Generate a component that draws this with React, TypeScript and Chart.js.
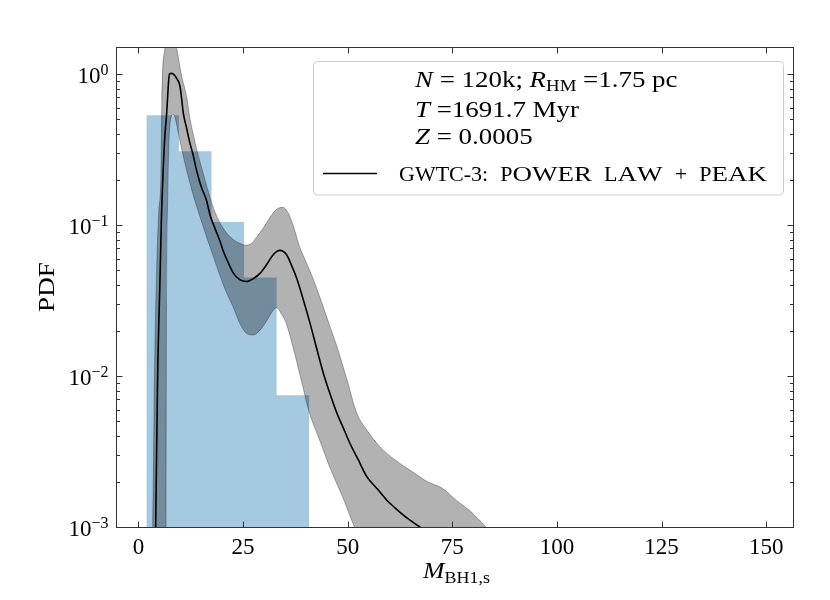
import React, { useEffect, useRef } from "react";
import { Chart, registerables } from "chart.js";

Chart.register(...registerables);

// ---------- data ----------
const histEdges = [1.91, 9.69, 17.47, 25.25, 33.03, 40.81];
const histHeights = [0.533, 0.308, 0.1047, 0.045, 0.00746];

const medianX = [3.9, 4.13, 4.6, 5.16, 5.5, 5.88, 6.3, 6.76, 7.1, 7.4, 8.0, 8.5, 9.2, 9.94, 10.35, 10.73, 11.5, 12.3, 13.1, 13.9, 15.0, 16.3, 17.1, 18.3, 19.5, 20.3, 21.5, 22.7, 24.2, 25.9, 27.5, 29.1, 30.7, 32.2, 33.8, 35.4, 36.6, 37.8, 39.4, 41.0, 42.6, 44.2, 45.8, 47.4, 49.0, 50.5, 52.5, 54.6, 57.0, 59.3, 61.3, 63.3, 65.5, 67.7, 69.5];
const medianY = [0.0003, 0.001, 0.01, 0.0434, 0.11, 0.216, 0.38, 0.55, 0.8, 1.0, 1.01, 0.99, 0.93, 0.83, 0.68, 0.55, 0.44, 0.35, 0.29, 0.23, 0.18, 0.145, 0.117, 0.095, 0.078, 0.067, 0.056, 0.048, 0.0435, 0.0423, 0.0442, 0.048, 0.055, 0.0636, 0.0679, 0.0636, 0.054, 0.0445, 0.032, 0.0224, 0.0152, 0.0104, 0.0076, 0.0057, 0.0045, 0.0036, 0.0028, 0.00215, 0.0018, 0.00151, 0.00134, 0.0012, 0.00108, 0.00098, 0.0009];

const upperX = [2.9, 3.42, 3.85, 4.3, 4.85, 5.4, 5.6, 6.36, 7.6, 9.1, 10.3, 11.6, 12.3, 13.1, 14.0, 15.1, 16.5, 18.0, 19.5, 21.1, 22.7, 24.3, 25.7, 27.1, 28.5, 29.9, 31.5, 33.0, 34.5, 35.8, 37.1, 38.5, 40.0, 41.5, 43.0, 44.5, 46.0, 47.4, 49.8, 52.2, 54.8, 57.7, 61.2, 65.5, 69.0, 72.7, 76.0, 79.1, 81.2, 83.0, 85.0];
const upperY = [0.0004, 0.001, 0.01, 0.0434, 0.12, 0.22, 0.66, 1.51, 2.4, 1.51, 0.98, 0.69, 0.51, 0.40, 0.31, 0.24, 0.174, 0.128, 0.103, 0.0885, 0.08, 0.0755, 0.0735, 0.076, 0.085, 0.096, 0.113, 0.127, 0.131, 0.12, 0.097, 0.072, 0.0575, 0.0457, 0.0355, 0.0269, 0.0204, 0.0158, 0.0095, 0.00566, 0.0043, 0.0034, 0.0028, 0.00232, 0.002, 0.0018, 0.0015, 0.00129, 0.00113, 0.001, 0.0008];

const lowerX = [2.9, 6.55, 6.7, 6.95, 7.5, 8.3, 8.8, 9.3, 9.94, 11.0, 12.3, 13.5, 14.7, 16.2, 17.9, 19.4, 21.1, 22.6, 24.2, 25.8, 27.4, 28.6, 29.8, 31.3, 32.4, 33.1, 34.0, 35.3, 36.9, 38.9, 40.9, 43.3, 45.7, 48.8, 51.6, 54.0, 60.0, 85.0];
const lowerY = [0.0001, 0.0005, 0.03, 0.13, 0.45, 0.54, 0.51, 0.44, 0.36, 0.265, 0.19, 0.145, 0.114, 0.085, 0.062, 0.047, 0.0354, 0.0289, 0.0224, 0.0192, 0.0187, 0.0195, 0.0213, 0.0249, 0.0277, 0.0283, 0.0262, 0.0224, 0.0157, 0.0094, 0.00566, 0.00377, 0.0025, 0.00158, 0.001, 0.0007, 0.0004, 0.0001];

const xTickValues = [0, 25, 50, 75, 100, 125, 150];
const yTickExponents = [-3, -2, -1, 0];
const yMinorFactors = [2, 3, 4, 5, 6, 7, 8, 9];

const legendInfo = ["N = 120k; R_HM =1.75 pc", "T =1691.7 Myr", "Z = 0.0005"];
const legendLabel = "GWTC-3: Power Law + Peak";

// ---------- helpers ----------
const FONT = '"Liberation Serif", "Times New Roman", serif';
const fnt = (size: number, italic = false) => `${italic ? "italic " : ""}${size}px ${FONT}`;

type Run = { t: string; size: number; italic?: boolean; dy?: number; sx?: number };

function runsWidth(ctx: CanvasRenderingContext2D, runs: Run[], gsx = 1) {
  let w = 0;
  for (const r of runs) {
    ctx.font = fnt(r.size, r.italic);
    w += ctx.measureText(r.t).width * (r.sx || 1) * gsx;
  }
  return w;
}
function drawRuns(ctx: CanvasRenderingContext2D, x: number, y: number, runs: Run[], gsx = 1) {
  ctx.textAlign = "left";
  ctx.textBaseline = "alphabetic";
  let cx = x;
  for (const r of runs) {
    const sx = (r.sx || 1) * gsx;
    ctx.font = fnt(r.size, r.italic);
    ctx.save();
    ctx.translate(cx, y + (r.dy || 0));
    ctx.scale(sx, 1);
    ctx.fillText(r.t, 0, 0);
    ctx.restore();
    cx += ctx.measureText(r.t).width * sx;
  }
}
// small caps for the legend label
function smallCapsRuns(text: string, big: number, small: number, smallSx: number, spaceSx: number): Run[] {
  const runs: Run[] = [];
  for (const ch of text) {
    const isLower = ch >= "a" && ch <= "z";
    if (ch === " ") runs.push({ t: ch, size: big, sx: spaceSx });
    else if (isLower) runs.push({ t: ch.toUpperCase(), size: small, sx: smallSx });
    else runs.push({ t: ch, size: big });
  }
  return runs;
}
// math-ish line: single capital letters are italic variables, "X_YY" is a subscripted variable
function mathRuns(text: string, size: number): Run[] {
  const runs: Run[] = [];
  const tokens = text.split(/(\b[A-Z]_[A-Z]+|\b[A-Z]\b)/).filter((s) => s.length);
  for (const tk of tokens) {
    if (/^[A-Z]_[A-Z]+$/.test(tk)) {
      const [v, s] = tk.split("_");
      runs.push({ t: v, size, italic: true });
      runs.push({ t: s, size: size * 0.7, dy: 4 });
    } else if (/^[A-Z]$/.test(tk)) {
      runs.push({ t: tk, size, italic: true });
    } else {
      runs.push({ t: tk, size });
    }
  }
  return runs;
}

const decorPlugin = {
  id: "decor",
  afterDraw(chart: any) {
    const { ctx, chartArea: a, scales } = chart;
    const xs = scales.x;
    const ys = scales.y;
    ctx.save();
    ctx.fillStyle = "#000";
    ctx.strokeStyle = "#333";
    ctx.lineWidth = 1;

    // spines
    const L = Math.round(a.left) + 0.5;
    const R = Math.round(a.right) + 0.5;
    const T = Math.round(a.top) + 0.5;
    const B = Math.round(a.bottom) + 0.5;
    ctx.strokeRect(L, T, R - L, B - T);

    // ticks (inward on all four sides)
    const major = 6;
    const minor = 3.5;
    ctx.beginPath();
    for (const v of xTickValues) {
      const px = Math.round(xs.getPixelForValue(v)) + 0.5;
      ctx.moveTo(px, B);
      ctx.lineTo(px, B - major);
      ctx.moveTo(px, T);
      ctx.lineTo(px, T + major);
    }
    for (const e of yTickExponents) {
      const v = Math.pow(10, e);
      if (v >= ys.min * 0.999 && v <= ys.max) {
        const py = Math.round(ys.getPixelForValue(v)) + 0.5;
        ctx.moveTo(L, py);
        ctx.lineTo(L + major, py);
        ctx.moveTo(R, py);
        ctx.lineTo(R - major, py);
      }
      for (const k of yMinorFactors) {
        const mv = k * v;
        if (mv > ys.max || mv < ys.min) continue;
        const py = Math.round(ys.getPixelForValue(mv)) + 0.5;
        ctx.moveTo(L, py);
        ctx.lineTo(L + minor, py);
        ctx.moveTo(R, py);
        ctx.lineTo(R - minor, py);
      }
    }
    ctx.stroke();

    // x tick labels
    ctx.font = fnt(23);
    ctx.textAlign = "center";
    ctx.textBaseline = "alphabetic";
    for (const v of xTickValues) {
      ctx.fillText(String(v), xs.getPixelForValue(v), a.bottom + 26.5);
    }
    // y tick labels 10^e
    for (const e of yTickExponents) {
      const v = Math.pow(10, e);
      const py = ys.getPixelForValue(v);
      const expTxt = e < 0 ? "\u2212" + String(-e) : String(e);
      const runs: Run[] = [
        { t: "10", size: 23 },
        { t: expTxt, size: 16, dy: -7.5 },
      ];
      const w = runsWidth(ctx, runs);
      drawRuns(ctx, a.left - 7.5 - w, py + 8.5, runs);
    }

    // axis titles
    const xl: Run[] = [
      { t: "M", size: 23, italic: true },
      { t: "BH1,s", size: 16, dy: 5 },
    ];
    const xw = runsWidth(ctx, xl, 1.12);
    drawRuns(ctx, (a.left + a.right) / 2 - xw / 2 + 2, a.bottom + 51, xl, 1.12);

    ctx.save();
    ctx.translate(a.left - 68, (a.top + a.bottom) / 2);
    ctx.rotate(-Math.PI / 2);
    ctx.scale(1.18, 1);
    ctx.font = fnt(23);
    ctx.textAlign = "center";
    ctx.textBaseline = "middle";
    ctx.fillText("PDF", 0, 0);
    ctx.restore();

    // legend box
    const bx = 313.5, by = 61.5, bw = 470, bh = 133.5, rr = 4;
    ctx.beginPath();
    ctx.moveTo(bx + rr, by);
    ctx.lineTo(bx + bw - rr, by);
    ctx.arcTo(bx + bw, by, bx + bw, by + rr, rr);
    ctx.lineTo(bx + bw, by + bh - rr);
    ctx.arcTo(bx + bw, by + bh, bx + bw - rr, by + bh, rr);
    ctx.lineTo(bx + rr, by + bh);
    ctx.arcTo(bx, by + bh, bx, by + bh - rr, rr);
    ctx.lineTo(bx, by + rr);
    ctx.arcTo(bx, by, bx + rr, by, rr);
    ctx.closePath();
    ctx.fillStyle = "rgba(255,255,255,0.8)";
    ctx.fill();
    ctx.strokeStyle = "#cccccc";
    ctx.lineWidth = 1;
    ctx.stroke();

    ctx.fillStyle = "#000";
    const baselines = [86.5, 116.5, 144];
    legendInfo.forEach((line, i) => {
      drawRuns(ctx, 415, baselines[i], mathRuns(line, 23), 1.17);
    });
    // handle
    ctx.beginPath();
    ctx.strokeStyle = "#000";
    ctx.lineWidth = 1.6;
    ctx.moveTo(323, 173.5);
    ctx.lineTo(377, 173.5);
    ctx.stroke();
    drawRuns(ctx, 399, 181, smallCapsRuns(legendLabel, 22, 20, 1.35, 2.2));

    ctx.restore();
  },
};

export default function App() {
  const ref = useRef<HTMLCanvasElement | null>(null);

  useEffect(() => {
    if (!ref.current) return;
    const histPts = histEdges.map((x, i) => ({
      x,
      y: histHeights[Math.min(i, histHeights.length - 1)],
    }));
    const medPts = medianX.map((x, i) => ({ x, y: medianY[i] }));
    const upPts = upperX.map((x, i) => ({ x, y: upperY[i] }));
    const loPts = lowerX.map((x, i) => ({ x, y: lowerY[i] }));

    const chart = new Chart(ref.current, {
      type: "line",
      data: {
        datasets: [
          {
            label: legendLabel,
            data: medPts,
            borderColor: "#000",
            borderWidth: 1.6,
            pointRadius: 0,
            fill: false,
            cubicInterpolationMode: "monotone",
          },
          {
            label: "upper",
            data: upPts,
            borderColor: "rgba(0,0,0,0.3)",
            borderWidth: 1,
            backgroundColor: "rgba(0,0,0,0.3)",
            pointRadius: 0,
            fill: "+1",
            cubicInterpolationMode: "monotone",
          },
          {
            label: "lower",
            data: loPts,
            borderColor: "rgba(0,0,0,0.3)",
            borderWidth: 1,
            pointRadius: 0,
            fill: false,
            cubicInterpolationMode: "monotone",
          },
          {
            label: "hist",
            data: histPts,
            stepped: "before",
            borderColor: "transparent",
            borderWidth: 0,
            backgroundColor: "rgba(31,119,180,0.4)",
            pointRadius: 0,
            fill: "start",
          },
        ],
      } as any,
      options: {
        animation: false,
        responsive: false,
        events: [],
        layout: { padding: { left: 116, right: 37, top: 47, bottom: 73 } },
        scales: {
          x: { type: "linear", min: -5.35, max: 156.4, display: false },
          y: { type: "logarithmic", min: 0.001, max: 1.51, display: false },
        },
        plugins: {
          legend: { display: false },
          tooltip: { enabled: false },
        },
      } as any,
      plugins: [decorPlugin],
    });
    return () => chart.destroy();
  }, []);

  return (
    <div style={{ position: "absolute", left: 0, top: 0, width: 830, height: 600, background: "#fff" }}>
      <canvas ref={ref} width={830} height={600} style={{ width: 830, height: 600 }} />
    </div>
  );
}
